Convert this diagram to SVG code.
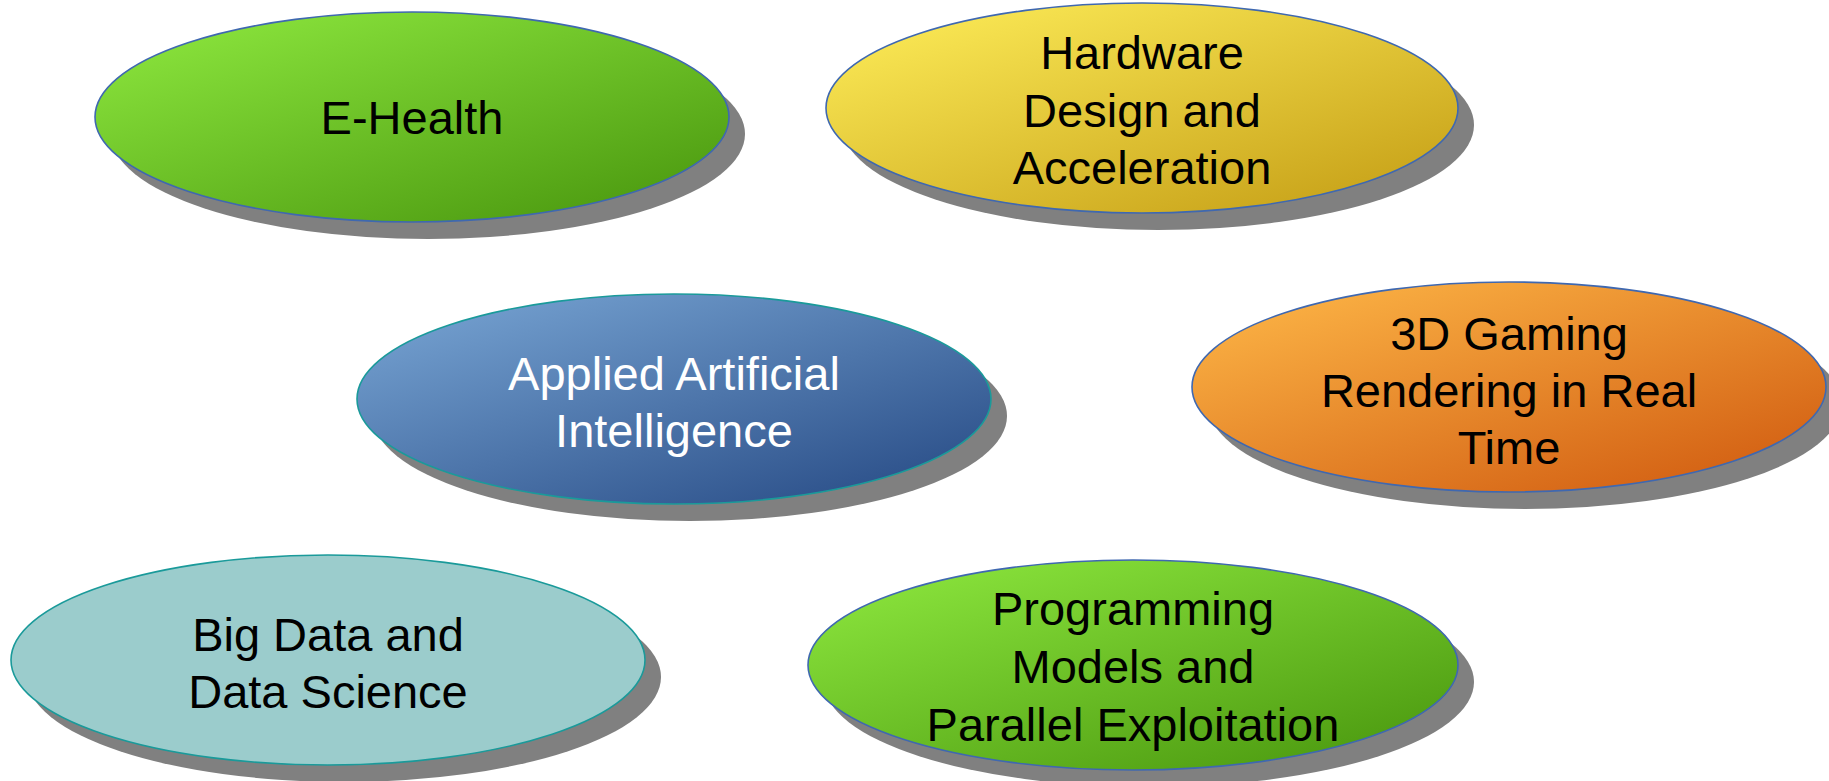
<svg xmlns="http://www.w3.org/2000/svg" width="1829" height="781" viewBox="0 0 1829 781">
<defs>
<linearGradient id="gGreen" x1="0.15" y1="0.1" x2="0.9" y2="0.95"><stop offset="0" stop-color="#87E03A"/><stop offset="1" stop-color="#4C9A10"/></linearGradient>
<linearGradient id="gYellow" x1="0.15" y1="0.1" x2="0.9" y2="0.95"><stop offset="0" stop-color="#F8E552"/><stop offset="1" stop-color="#C7A118"/></linearGradient>
<linearGradient id="gBlue" x1="0.15" y1="0.1" x2="0.9" y2="0.95"><stop offset="0" stop-color="#709CCC"/><stop offset="1" stop-color="#2A4E88"/></linearGradient>
<linearGradient id="gOrange" x1="0.15" y1="0.1" x2="0.9" y2="0.95"><stop offset="0" stop-color="#F9AE42"/><stop offset="1" stop-color="#D25E12"/></linearGradient>
</defs>
<style>
.shadow{fill:#808080}
.bs{stroke:#3F68B0;stroke-width:1.6}
.ts{stroke:#1A9A9A;stroke-width:1.6}
text{font-family:"Liberation Sans",Arial,sans-serif;font-size:47px;text-anchor:middle;fill:#000}
.w{fill:#fff}
</style>
<rect width="1829" height="781" fill="#fff"/>
<g id="connectors"/>
<g id="ehealth">
<ellipse class="shadow" cx="428" cy="134" rx="317" ry="105"/>
<ellipse class="bs" fill="url(#gGreen)" cx="412" cy="117" rx="317" ry="105"/>
<text x="412" y="134">E-Health</text>
</g>
<g id="hardware">
<ellipse class="shadow" cx="1158" cy="125" rx="316" ry="105"/>
<ellipse class="bs" fill="url(#gYellow)" cx="1142" cy="108" rx="316" ry="105"/>
<text x="1142" y="69">Hardware</text>
<text x="1142" y="127">Design and</text>
<text x="1142" y="184">Acceleration</text>
</g>
<g id="ai">
<ellipse class="shadow" cx="690" cy="416" rx="317" ry="105"/>
<ellipse class="ts" fill="url(#gBlue)" cx="674" cy="399" rx="317" ry="105"/>
<text class="w" x="674" y="390">Applied Artificial</text>
<text class="w" x="674" y="447">Intelligence</text>
</g>
<g id="gaming">
<ellipse class="shadow" cx="1525" cy="404" rx="317" ry="105"/>
<ellipse class="bs" fill="url(#gOrange)" cx="1509" cy="387" rx="317" ry="105"/>
<text x="1509" y="350">3D Gaming</text>
<text x="1509" y="407">Rendering in Real</text>
<text x="1509" y="464">Time</text>
</g>
<g id="bigdata">
<ellipse class="shadow" cx="344" cy="677" rx="317" ry="105"/>
<ellipse class="ts" fill="#9BCCCC" cx="328" cy="660" rx="317" ry="105"/>
<text x="328" y="651">Big Data and</text>
<text x="328" y="708">Data Science</text>
</g>
<g id="programming">
<ellipse class="shadow" cx="1149" cy="682" rx="325" ry="105"/>
<ellipse class="bs" fill="url(#gGreen)" cx="1133" cy="665" rx="325" ry="105"/>
<text x="1133" y="625">Programming</text>
<text x="1133" y="683">Models and</text>
<text x="1133" y="741">Parallel Exploitation</text>
</g>
</svg>
